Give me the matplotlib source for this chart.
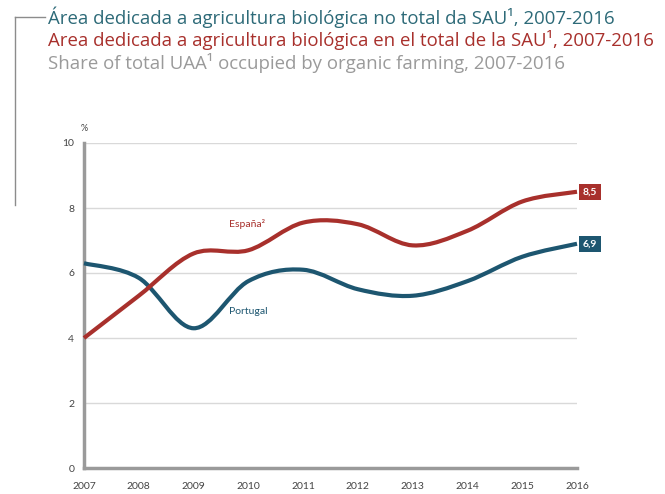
import numpy as np
import matplotlib.pyplot as plt
from matplotlib.path import Path
from matplotlib.patches import PathPatch
from matplotlib.lines import Line2D

# dados (% da SAU)
years = [2007, 2008, 2009, 2010, 2011, 2012, 2013, 2014, 2015, 2016]
portugal = [6.3, 5.85, 4.3, 5.75, 6.1, 5.5, 5.3, 5.75, 6.5, 6.9]
espana = [4.0, 5.3, 6.6, 6.7, 7.55, 7.5, 6.85, 7.3, 8.2, 8.5]
yticks = [0, 2, 4, 6, 8, 10]

title_pt = 'Área dedicada a agricultura biológica no total da SAU¹, 2007-2016'
title_es = 'Area dedicada a agricultura biológica en el total de la SAU¹, 2007-2016'
title_en = 'Share of total UAA¹ occupied by organic farming, 2007-2016'

c_pt = '#1d5670'
c_es = '#a8302c'
c_grid = '#d9d9d9'
c_axis = '#9a9a9a'

plt.rcParams['font.family'] = ['Lato', 'DejaVu Sans']


def smooth_path(x, y):
    # curva suavizada tipo Excel (Catmull-Rom -> Bezier)
    pts = np.column_stack([x, y]).astype(float)
    n = len(pts)
    verts = [pts[0]]
    codes = [Path.MOVETO]
    for i in range(n - 1):
        p0 = pts[max(i - 1, 0)]
        p1 = pts[i]
        p2 = pts[i + 1]
        p3 = pts[min(i + 2, n - 1)]
        verts += [p1 + (p2 - p0) / 6, p2 - (p3 - p1) / 6, p2]
        codes += [Path.CURVE4] * 3
    return Path(verts, codes)


fig = plt.figure(figsize=(6.65, 4.94), dpi=100)
ax = fig.add_axes([84 / 665, 26 / 494, 493 / 665, 325 / 494])

ax.set_xlim(years[0], years[-1])
ax.set_ylim(0, 10)
ax.set_yticks(yticks)
ax.set_xticks(years)
ax.set_yticklabels([str(v) for v in yticks], fontsize=7.5, color='#444444')
ax.set_xticklabels([str(v) for v in years], fontsize=7.5, color='#444444')
ax.tick_params(axis='both', length=0)
ax.tick_params(axis='y', pad=7)
ax.tick_params(axis='x', pad=10)

for v in yticks[1:]:
    ax.axhline(v, color=c_grid, lw=1, zorder=1)

for s in ['top', 'right']:
    ax.spines[s].set_visible(False)
for s in ['left', 'bottom']:
    ax.spines[s].set_color(c_axis)
    ax.spines[s].set_linewidth(2.5)
    ax.spines[s].set_zorder(2)

for vals, col in [(portugal, c_pt), (espana, c_es)]:
    patch = PathPatch(smooth_path(years, vals), facecolor='none', edgecolor=col,
                      lw=3, capstyle='butt', zorder=3, clip_on=False)
    ax.add_patch(patch)

# etiquetas das séries
ax.text(2009.65, 7.5, 'España²', color=c_es, fontsize=7.5, ha='left', va='center')
ax.text(2009.65, 4.8, 'Portugal', color=c_pt, fontsize=7.5, ha='left', va='center')

# valores finais
for vals, col in [(espana, c_es), (portugal, c_pt)]:
    ax.annotate(f'{vals[-1]:.1f}'.replace('.', ','), xy=(years[-1], vals[-1]),
                xytext=(4, 0), textcoords='offset points', ha='left', va='center',
                fontsize=7.5, fontweight='bold', color='white',
                bbox=dict(boxstyle='square,pad=0.35', fc=col, ec='none'),
                annotation_clip=False)

ax.text(0, 1.03, '%', transform=ax.transAxes, fontsize=6.5, color='#444444',
        ha='center', va='bottom')

# títulos
title_font = ['Open Sans', 'DejaVu Sans']
fig.text(48 / 665, 1 - 17 / 494, title_pt, color='#2d6a78', fontsize=13.4,
         family=title_font, ha='left', va='center')
fig.text(48 / 665, 1 - 40 / 494, title_es, color=c_es, fontsize=13.4,
         family=title_font, ha='left', va='center')
fig.text(48 / 665, 1 - 63 / 494, title_en, color='#9a9a9a', fontsize=13.4,
         family=title_font, ha='left', va='center')

# linha de guia à esquerda
fig.add_artist(Line2D([15 / 665, 15 / 665], [1 - 17 / 494, 1 - 205 / 494],
                      color='#8c8c8c', lw=1))
fig.add_artist(Line2D([15 / 665, 45 / 665], [1 - 17 / 494, 1 - 17 / 494],
                      color='#8c8c8c', lw=1))

fig.savefig('out.png', dpi=100)
